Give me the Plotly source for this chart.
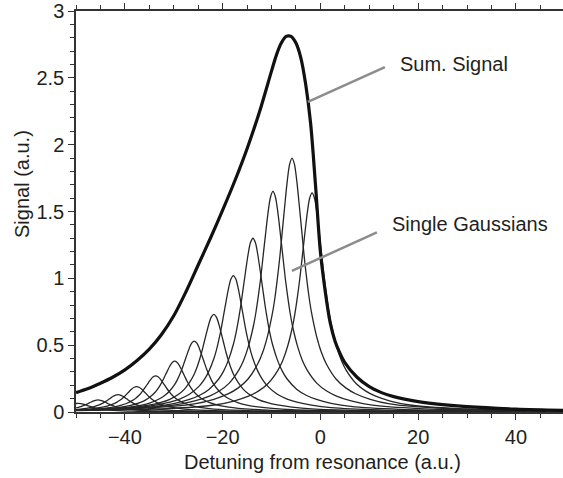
import plotly.graph_objects as go

# ---- data ----
peak_centers = [-49.5, -45.5, -41.4, -37.6, -33.7, -29.8, -25.8, -21.8, -17.8, -13.8, -9.7, -5.8, -1.7]
peak_heights = [0.065, 0.09, 0.13, 0.19, 0.27, 0.38, 0.53, 0.73, 1.02, 1.30, 1.65, 1.90, 1.64]

# relative line profile of one peak (offset from centre -> fraction of peak height)
profile_offsets = [0, 0.5, 1, 1.5, 2, 2.5, 3, 3.5, 4, 5, 6, 7, 9, 11, 13, 16, 20, 30, 45, 60]
profile_values = [1.0, 0.975, 0.905, 0.81, 0.71, 0.61, 0.525, 0.45, 0.39, 0.30, 0.235, 0.19,
                  0.13, 0.095, 0.072, 0.05, 0.032, 0.015, 0.007, 0.004]

sum_x = [-50, -47.5, -45, -42.5, -40, -37.5, -35, -32.5, -30, -27.5, -25, -22.5, -20, -17.5,
         -15, -12.5, -10, -9, -8, -7, -6, -5, -4, -3, -2, -1, 0, 1, 2, 3, 4, 5, 7.5, 10,
         12.5, 15, 20, 25, 30, 40, 50]
sum_y = [0.145, 0.175, 0.215, 0.26, 0.315, 0.385, 0.47, 0.58, 0.72, 0.90, 1.10, 1.30, 1.51, 1.73,
         1.97, 2.24, 2.55, 2.67, 2.76, 2.81, 2.81, 2.76, 2.65, 2.45, 2.16, 1.70, 1.20, 0.90, 0.67,
         0.53, 0.44, 0.37, 0.26, 0.19, 0.145, 0.115, 0.078, 0.055, 0.04, 0.022, 0.012]

x_ticks = [-40, -20, 0, 20, 40]
y_ticks = [0, 0.5, 1, 1.5, 2, 2.5, 3]
y_tick_text = ["0", "0.5", "1", "1.5", "2", "2.5", "3"]

FONT = "Liberation Sans, Arial, Helvetica, sans-serif"
TXT = "#231f20"
GRAY = "#8c8c8c"

fig = go.Figure()

# single peaks
full_off = [-o for o in profile_offsets[::-1]] + profile_offsets[1:]
full_val = profile_values[::-1] + profile_values[1:]
for c, h in zip(peak_centers, peak_heights):
    fig.add_trace(go.Scatter(
        x=[c + o for o in full_off],
        y=[h * v for v in full_val],
        mode="lines", line=dict(color="#262626", width=1.3, shape="spline", smoothing=0.8),
        hoverinfo="skip", showlegend=False))

# sum signal
fig.add_trace(go.Scatter(
    x=sum_x, y=sum_y, mode="lines",
    line=dict(color="#111111", width=3.2, shape="spline", smoothing=0.9),
    showlegend=False))

# pointer lines
fig.add_shape(type="line", xref="x", yref="y", x0=-2.56, y0=2.32, x1=13.2, y1=2.58,
              line=dict(color=GRAY, width=2.5))
fig.add_shape(type="line", xref="x", yref="y", x0=-5.83, y0=1.055, x1=11.56, y1=1.344,
              line=dict(color=GRAY, width=2.5))

fig.add_annotation(x=15.9, y=2.60, xref="x", yref="y", text="Sum. Signal", showarrow=False,
                   xanchor="left", yanchor="middle", font=dict(family=FONT, size=20, color=TXT))
fig.add_annotation(x=14.2, y=1.41, xref="x", yref="y", text="Single Gaussians", showarrow=False,
                   xanchor="left", yanchor="middle", font=dict(family=FONT, size=20, color=TXT))

W, H = 563, 478
L, R, T, B = 76, 0, 11, 66

def paper_x(px):
    return (px - L) / (W - L - R)

def paper_y(py):
    return 1 - (py - T) / (H - T - B)

# axis titles
fig.add_annotation(x=paper_x(322), y=paper_y(462), xref="paper", yref="paper",
                   text="Detuning from resonance (a.u.)",
                   showarrow=False, xanchor="center", yanchor="middle",
                   font=dict(family=FONT, size=20, color=TXT))
fig.add_annotation(x=paper_x(22), y=paper_y(184), xref="paper", yref="paper",
                   text="Signal (a.u.)", textangle=-90,
                   showarrow=False, xanchor="center", yanchor="middle",
                   font=dict(family=FONT, size=20, color=TXT))

fig.update_layout(
    width=W, height=H,
    margin=dict(l=L, r=R, t=T, b=B, pad=0),
    paper_bgcolor="white", plot_bgcolor="white",
    font=dict(family=FONT, size=20, color=TXT),
    xaxis=dict(range=[-50, 49.64], tickvals=x_ticks, ticks="outside", ticklen=6, tickwidth=1.2,
               tickcolor="#333", showline=True, linecolor="#333", linewidth=1.5, mirror="ticks",
               showgrid=False, zeroline=False,
               minor=dict(dtick=5, tick0=0, ticks="outside", ticklen=4, tickwidth=1, tickcolor="#333"),
               tickfont=dict(size=20)),
    yaxis=dict(range=[0, 3], tickvals=y_ticks, ticktext=y_tick_text, ticks="outside", ticklen=6,
               tickwidth=1.2, tickcolor="#333", showline=True, linecolor="#333", linewidth=1.5,
               showgrid=False, zeroline=False,
               minor=dict(dtick=0.1, tick0=0, ticks="outside", ticklen=4, tickwidth=1, tickcolor="#333"),
               tickfont=dict(size=20)),
)

fig.write_html("out.html")
